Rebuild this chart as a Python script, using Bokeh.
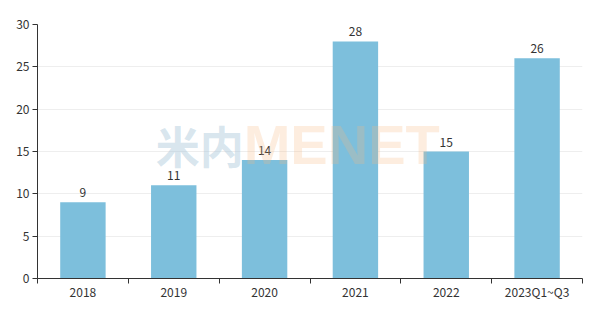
import numpy as np
from bokeh.plotting import figure
from bokeh.models import ColumnDataSource, FixedTicker, Range1d
from bokeh.core.properties import value
from bokeh.embed import file_html
from bokeh.resources import INLINE

categories = ["2018", "2019", "2020", "2021", "2022", "2023Q1~Q3"]
counts = [9, 11, 14, 28, 15, 26]
y_ticks = [0, 5, 10, 15, 20, 25, 30]

FONT = "Noto Sans CJK SC"
TXT = "#333333"

xpos = np.arange(len(categories)) + 0.5
src = ColumnDataSource(dict(x=xpos, y=counts, label=[str(c) for c in counts]))

p = figure(width=600, height=312, output_backend="svg", toolbar_location=None,
           x_range=Range1d(0, len(categories)), y_range=Range1d(0, 30),
           min_border_left=37, min_border_right=18, min_border_top=24, min_border_bottom=34)
p.outline_line_color = None
p.background_fill_color = "white"
p.border_fill_color = "white"

p.vbar(x="x", top="y", width=0.5, source=src, color="#7dbfdc", line_color=None)

p.text(x="x", y="y", text="label", source=src, text_align="center", text_baseline="bottom",
       y_offset=-5, text_font=value(FONT), text_font_size="12px", text_color=TXT)

# watermark
p.text(x=[2.27], y=[15.8], text=["米内"], text_align="right", text_baseline="middle",
       text_font=value(FONT), text_font_style="bold", text_font_size="44px",
       text_color="#a9c7da", text_alpha=0.45)
p.text(x=[2.27], y=[15.8], text=["MENET"], text_align="left", text_baseline="middle",
       text_font=value("Liberation Sans"), text_font_style="bold", text_font_size="56px",
       text_color="#f7b97f", text_alpha=0.25)

# axes
p.xaxis.ticker = FixedTicker(ticks=list(xpos), minor_ticks=list(range(len(categories) + 1)))
p.xaxis.major_label_overrides = {float(x): c for x, c in zip(xpos, categories)}
p.xaxis.major_tick_line_color = None
p.xaxis.major_tick_in = 0
p.xaxis.major_tick_out = 0
p.xaxis.minor_tick_line_color = TXT
p.xaxis.minor_tick_in = 0
p.xaxis.minor_tick_out = 5
p.xaxis.axis_line_color = TXT
p.xaxis.major_label_text_font = FONT
p.xaxis.major_label_text_font_size = "12px"
p.xaxis.major_label_text_color = TXT
p.xaxis.major_label_standoff = -1

p.yaxis.ticker = FixedTicker(ticks=y_ticks)
p.yaxis.minor_tick_line_color = None
p.yaxis.major_tick_in = 0
p.yaxis.major_tick_out = 5
p.yaxis.major_tick_line_color = TXT
p.yaxis.axis_line_color = TXT
p.yaxis.major_label_text_font = FONT
p.yaxis.major_label_text_font_size = "12px"
p.yaxis.major_label_text_color = TXT
p.yaxis.major_label_standoff = 3

p.xgrid.grid_line_color = None
p.ygrid.grid_line_color = "#eeeeee"
p.ygrid.ticker = FixedTicker(ticks=y_ticks[1:])

open("out.html", "w").write(file_html(p, INLINE))
